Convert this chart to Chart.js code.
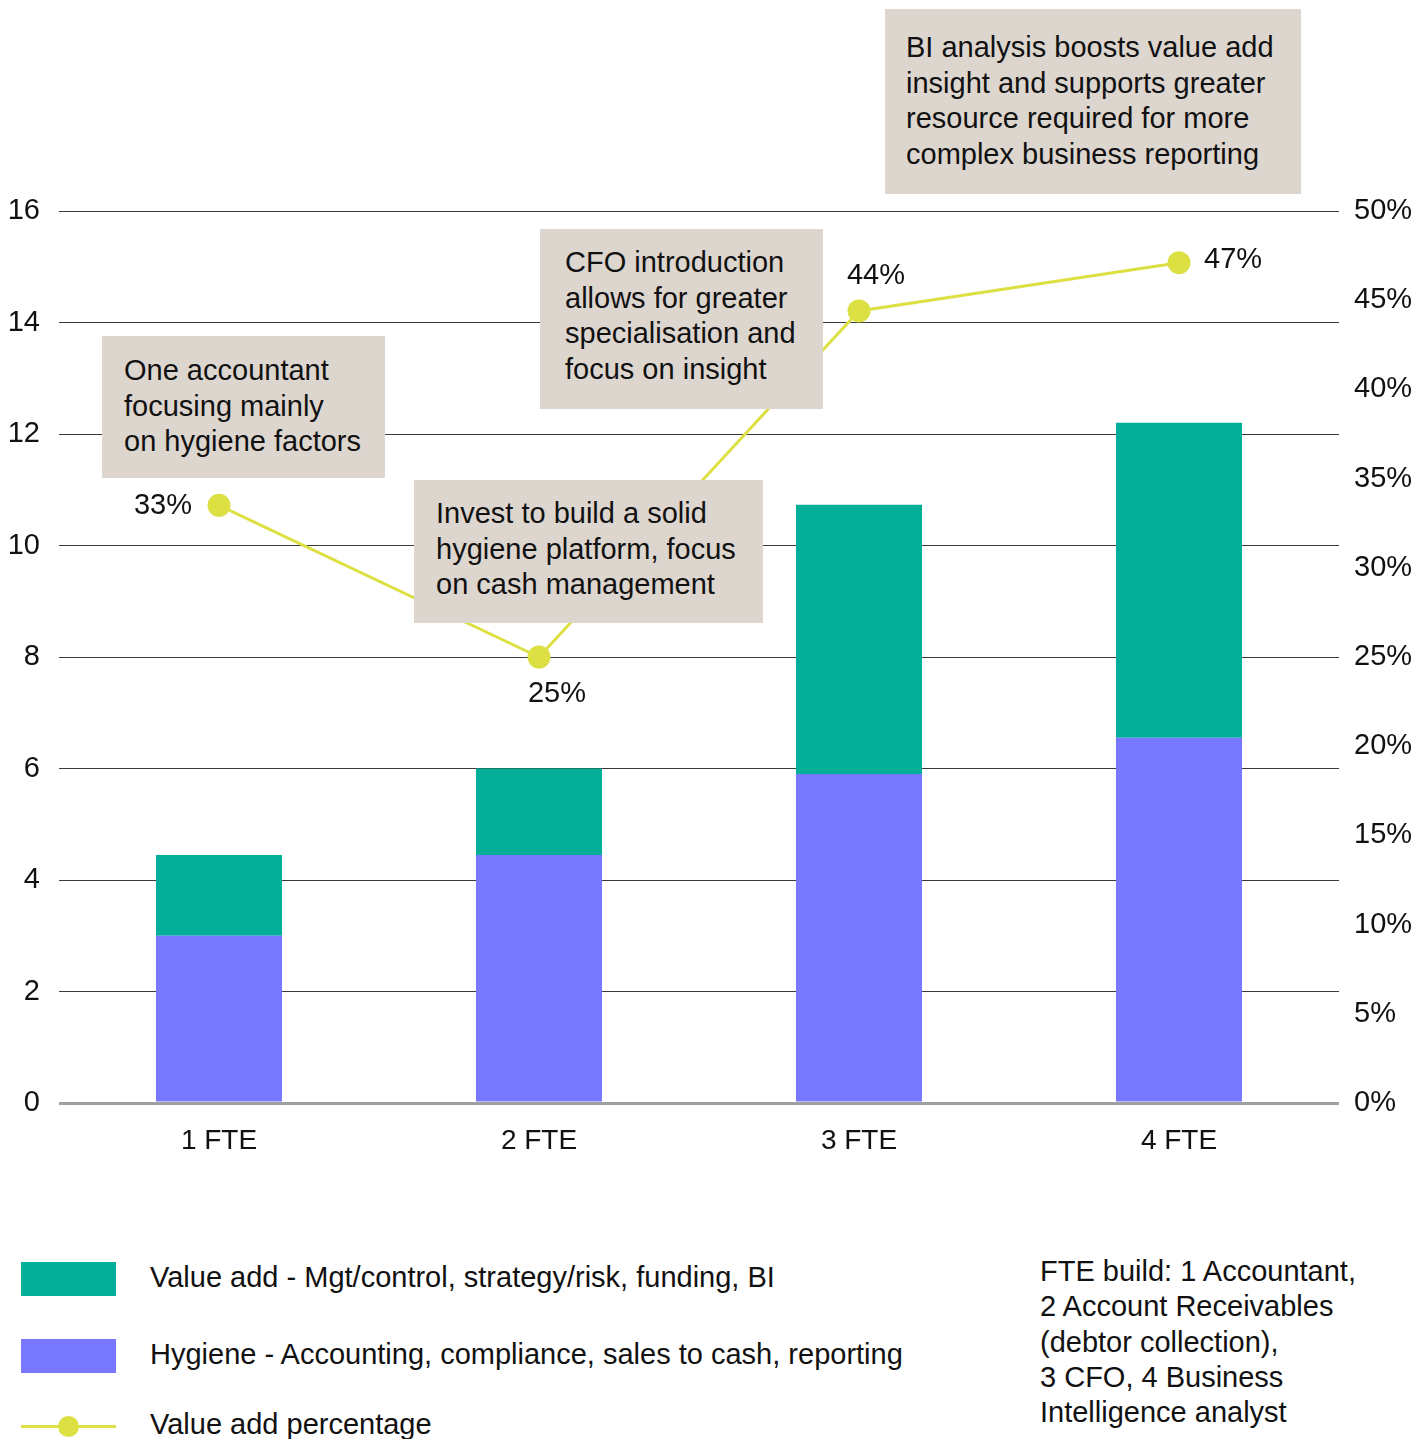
<!DOCTYPE html>
<html>
<head>
<meta charset="utf-8">
<script src="https://cdn.jsdelivr.net/npm/chart.js@4"></script>
<style>
  body { margin: 0; background: #fff; font-family: "Liberation Sans", Arial, sans-serif; color: #111; }
  #wrap { position: relative; width: 1427px; height: 1439px; overflow: hidden; }
  #chartBox { position: absolute; left: 0; top: 0; width: 1427px; height: 1180px; }
  .note { position: absolute; background: #ddd6cf; font-size: 29px; line-height: 35.5px; padding: 0 10px 0 22px; box-sizing: border-box; white-space: nowrap; }
  .leg { position: absolute; left: 21px; width: 95px; height: 34px; }
  .legtxt { position: absolute; left: 150px; font-size: 29px; line-height: 34px; white-space: nowrap; }
  #foot { position: absolute; left: 1040px; top: 1254px; font-size: 29px; line-height: 35.3px; white-space: nowrap; }
</style>
</head>
<body>
<div id="wrap">
  <div id="chartBox"><canvas id="c"></canvas></div>

  <div class="note" style="left:102px;top:336px;width:283px;height:142px;padding-top:17px;">One accountant<br>focusing mainly<br>on hygiene factors</div>
  <div class="note" style="left:414px;top:480px;width:349px;height:143px;padding-top:16px;">Invest to build a solid<br>hygiene platform, focus<br>on cash management</div>
  <div class="note" style="left:540px;top:229px;width:283px;height:180px;padding-top:16px;padding-left:25px;">CFO introduction<br>allows for greater<br>specialisation and<br>focus on insight</div>
  <div class="note" style="left:885px;top:9px;width:416px;height:185px;padding-top:21px;padding-left:21px;">BI analysis boosts value add<br>insight and supports greater<br>resource required for more<br>complex business reporting</div>

  <div class="leg" style="top:1262px;background:#03af98;"></div>
  <div class="legtxt" style="top:1260px;">Value add - Mgt/control, strategy/risk, funding, BI</div>
  <div class="leg" style="top:1339px;background:#7777ff;"></div>
  <div class="legtxt" style="top:1337px;">Hygiene - Accounting, compliance, sales to cash, reporting</div>
  <div style="position:absolute;left:21px;top:1425px;width:95px;height:3px;background:#dce042;"></div>
  <div style="position:absolute;left:58px;top:1416px;width:21px;height:21px;border-radius:50%;background:#dce042;"></div>
  <div class="legtxt" style="top:1407px;">Value add percentage</div>

  <div id="foot">FTE build: 1 Accountant,<br>2 Account Receivables<br>(debtor collection),<br>3 CFO, 4 Business<br>Intelligence analyst</div>
</div>

<script>
const categories = ['1 FTE', '2 FTE', '3 FTE', '4 FTE'];
const hygiene = [3, 4.45, 5.9, 6.55];
const valueAdd = [1.45, 1.55, 4.83, 5.65];
const valueAddPct = [33.5, 25, 44.4, 47.1];
const pctLabels = ['33%', '25%', '44%', '47%'];
const leftTicks = [0, 2, 4, 6, 8, 10, 12, 14, 16];
const rightTicks = [0, 5, 10, 15, 20, 25, 30, 35, 40, 45, 50];

const FONT = '"Liberation Sans", Arial, sans-serif';

// where each percentage label sits relative to its point
const labelPos = ['left', 'below', 'above', 'right'];

const pctLabelPlugin = {
  id: 'pctLabels',
  afterDatasetsDraw(chart) {
    const meta = chart.getDatasetMeta(2);
    const ctx = chart.ctx;
    ctx.save();
    ctx.font = '29px ' + FONT;
    ctx.fillStyle = '#111';
    ctx.textBaseline = 'middle';
    meta.data.forEach((pt, i) => {
      let x = pt.x, y = pt.y;
      const pos = labelPos[i];
      if (pos === 'left') { ctx.textAlign = 'right'; x -= 27; y += 1; }
      if (pos === 'right') { ctx.textAlign = 'left'; x += 25; y -= 3; }
      if (pos === 'above') { ctx.textAlign = 'center'; x += 17; y -= 35; }
      if (pos === 'below') { ctx.textAlign = 'center'; x += 18; y += 37; }
      ctx.fillText(pctLabels[i], x, y);
    });
    ctx.restore();
  }
};

new Chart(document.getElementById('c'), {
  data: {
    labels: categories,
    datasets: [
      {
        type: 'bar',
        label: 'Hygiene - Accounting, compliance, sales to cash, reporting',
        data: hygiene,
        backgroundColor: '#7777ff',
        yAxisID: 'y',
        stack: 's',
        order: 2,
        barPercentage: 0.394,
        categoryPercentage: 1
      },
      {
        type: 'bar',
        label: 'Value add - Mgt/control, strategy/risk, funding, BI',
        data: valueAdd,
        backgroundColor: '#03af98',
        yAxisID: 'y',
        stack: 's',
        order: 2,
        barPercentage: 0.394,
        categoryPercentage: 1
      },
      {
        type: 'line',
        label: 'Value add percentage',
        data: valueAddPct,
        yAxisID: 'y1',
        borderColor: '#dce042',
        backgroundColor: '#dce042',
        borderWidth: 3,
        pointRadius: 10,
        pointHoverRadius: 10,
        tension: 0,
        order: 1
      }
    ]
  },
  options: {
    responsive: true,
    maintainAspectRatio: false,
    animation: false,
    layout: { padding: { top: 211, left: 0, right: 0, bottom: 0 } },
    plugins: {
      legend: { display: false },
      tooltip: { enabled: false }
    },
    scales: {
      x: {
        stacked: true,
        grid: { display: false, drawTicks: false },
        border: { display: false },
        ticks: { color: '#111', font: { family: FONT, size: 28 }, padding: 21 },
        afterFit(s) { s.height = 77; }
      },
      y: {
        stacked: true,
        position: 'left',
        min: 0, max: 16,
        afterBuildTicks(s) { s.ticks = leftTicks.map(v => ({ value: v })); },
        grid: {
          drawTicks: false,
          color: c => c.tick.value === 0 ? '#a0a0a0' : '#3a3a3a',
          lineWidth: c => c.tick.value === 0 ? 3 : 1
        },
        border: { display: false },
        ticks: { color: '#111', font: { family: FONT, size: 29 }, padding: 19 },
        afterFit(s) { s.width = 59; }
      },
      y1: {
        position: 'right',
        min: 0, max: 50,
        afterBuildTicks(s) { s.ticks = rightTicks.map(v => ({ value: v })); },
        grid: { display: false, drawTicks: false },
        border: { display: false },
        ticks: { color: '#111', font: { family: FONT, size: 29 }, padding: 15, callback: v => v + '%' },
        afterFit(s) { s.width = 88; }
      }
    }
  },
  plugins: [pctLabelPlugin]
});
</script>
</body>
</html>
